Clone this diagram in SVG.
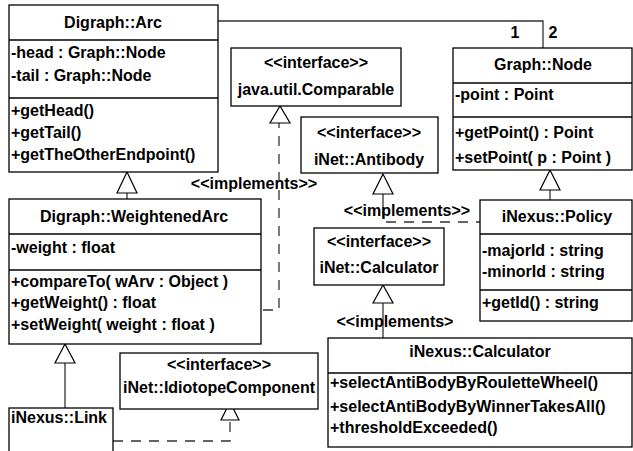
<svg xmlns="http://www.w3.org/2000/svg" width="633" height="451" viewBox="0 0 633 451">
<style>
.box{fill:#fff;stroke:#000;stroke-width:1.3}
.sep{stroke:#000;stroke-width:1.3}
.con{fill:none;stroke:#333;stroke-width:1.3}
.dash{fill:none;stroke:#333;stroke-width:1.3;stroke-dasharray:10,8}
.tri{fill:#fff;stroke:#000;stroke-width:1.2}
text{font-family:"Liberation Sans",Arial,sans-serif;font-weight:bold;font-size:16px;fill:#000}
.c{text-anchor:middle}
</style>
<rect width="633" height="451" fill="#fff"/>
<g id="connectors">
  <polyline class="con" points="218,21 543,21 543,48"/>
  <text x="515" y="38" class="c">1</text>
  <text x="553" y="38" class="c">2</text>
  <line class="con" x1="127" y1="193" x2="127" y2="199"/>
  <polygon class="tri" points="127,172 117,193 137,193"/>
  <polyline class="dash" points="263,310 279,310 279,123"/>
  <polygon class="tri" points="280,106 270,123 290,123"/>
  <text x="254" y="189" class="c">&lt;&lt;implements&gt;&gt;</text>
  <line class="con" x1="383" y1="194" x2="383" y2="207"/>
  <polyline class="dash" points="383,207 383,222 480,222"/>
  <polygon class="tri" points="383,174 373,194 393,194"/>
  <text x="407" y="216" class="c">&lt;&lt;implements&gt;&gt;</text>
  <line class="con" x1="550" y1="190" x2="550" y2="200"/>
  <polygon class="tri" points="550,170 540,190 560,190"/>
  <line class="con" x1="383" y1="303" x2="383" y2="338"/>
  <polygon class="tri" points="383,285 373,303 393,303"/>
  <text x="395" y="327" class="c">&lt;&lt;implements&gt;</text>
  <line class="con" x1="65" y1="363" x2="65" y2="408"/>
  <polygon class="tri" points="65,344 55,363 75,363"/>
  <polyline class="dash" points="113,441 230,441 230,420"/>
  <polygon class="tri" points="230,402 221,420 239,420"/>
</g>
<g id="arc">
  <rect class="box" x="9" y="5" width="209" height="167"/>
  <line class="sep" x1="9" y1="40" x2="218" y2="40"/>
  <line class="sep" x1="9" y1="98" x2="218" y2="98"/>
  <text x="113" y="28" class="c">Digraph::Arc</text>
  <text x="11" y="58">-head : Graph::Node</text>
  <text x="11" y="81">-tail : Graph::Node</text>
  <text x="11" y="116">+getHead()</text>
  <text x="11" y="138">+getTail()</text>
  <text x="11" y="160">+getTheOtherEndpoint()</text>
</g>
<g id="comparable">
  <rect class="box" x="231" y="48" width="170" height="58"/>
  <text x="316" y="68" class="c">&lt;&lt;interface&gt;&gt;</text>
  <text x="316" y="95" class="c">java.util.Comparable</text>
</g>
<g id="graphnode">
  <rect class="box" x="453" y="48" width="179" height="122"/>
  <line class="sep" x1="453" y1="83" x2="632" y2="83"/>
  <line class="sep" x1="453" y1="117" x2="632" y2="117"/>
  <text x="543" y="70" class="c">Graph::Node</text>
  <text x="455" y="100">-point : Point</text>
  <text x="455" y="138">+getPoint() : Point</text>
  <text x="455" y="163">+setPoint( p : Point )</text>
</g>
<g id="antibody">
  <rect class="box" x="301" y="117" width="137" height="56"/>
  <text x="369" y="138" class="c">&lt;&lt;interface&gt;&gt;</text>
  <text x="369" y="165" class="c">iNet::Antibody</text>
</g>
<g id="weightenedarc">
  <rect class="box" x="9" y="199" width="252" height="145"/>
  <line class="sep" x1="9" y1="234" x2="261" y2="234"/>
  <line class="sep" x1="9" y1="270" x2="261" y2="270"/>
  <text x="134" y="222" class="c">Digraph::WeightenedArc</text>
  <text x="11" y="253">-weight : float</text>
  <text x="11" y="287">+compareTo( wArv : Object )</text>
  <text x="11" y="308">+getWeight() : float</text>
  <text x="11" y="330">+setWeight( weight : float )</text>
</g>
<g id="policy">
  <rect class="box" x="480" y="200" width="152" height="121"/>
  <line class="sep" x1="480" y1="234" x2="632" y2="234"/>
  <line class="sep" x1="480" y1="290" x2="632" y2="290"/>
  <text x="557" y="222" class="c">iNexus::Policy</text>
  <text x="482" y="256">-majorId : string</text>
  <text x="482" y="277">-minorId : string</text>
  <text x="482" y="308">+getId() : string</text>
</g>
<g id="calculatorinterface">
  <rect class="box" x="314" y="228" width="130" height="57"/>
  <text x="379" y="247" class="c">&lt;&lt;interface&gt;&gt;</text>
  <text x="379" y="273" class="c">iNet::Calculator</text>
</g>
<g id="idiotope">
  <rect class="box" x="120" y="353" width="198" height="56"/>
  <text x="219" y="370" class="c">&lt;&lt;interface&gt;&gt;</text>
  <text x="219" y="393" class="c">iNet::IdiotopeComponent</text>
</g>
<g id="calculator">
  <rect class="box" x="328" y="338" width="304" height="109"/>
  <line class="sep" x1="328" y1="373" x2="632" y2="373"/>
  <text x="480" y="357" class="c">iNexus::Calculator</text>
  <text x="330" y="388">+selectAntiBodyByRouletteWheel()</text>
  <text x="330" y="412">+selectAntiBodyByWinnerTakesAll()</text>
  <text x="330" y="433">+thresholdExceeded()</text>
</g>
<g id="link">
  <rect class="box" x="9" y="408" width="104" height="50"/>
  <text x="11" y="423">iNexus::Link</text>
</g>
</svg>
